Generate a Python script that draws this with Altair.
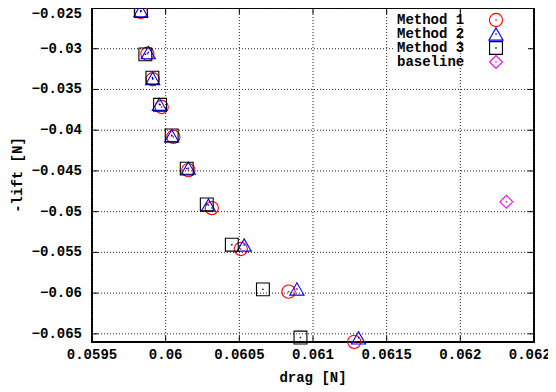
import altair as alt
import pandas as pd

# ---- data ----
m1_drag = [0.059831, 0.059876, 0.059912, 0.059973, 0.060052, 0.060154, 0.060313, 0.060510, 0.060834, 0.061280]
m1_lift = [-0.02547, -0.03061, -0.03375, -0.03715, -0.04082, -0.04490, -0.04956, -0.05458, -0.05982, -0.06598]
m2_drag = [0.059831, 0.059882, 0.059912, 0.059957, 0.060041, 0.060154, 0.060290, 0.060533, 0.060891, 0.061309]
m2_lift = [-0.02532, -0.03047, -0.03365, -0.03681, -0.04070, -0.04466, -0.04919, -0.05409, -0.05949, -0.06549]
m3_drag = [0.059833, 0.059862, 0.059910, 0.059962, 0.060041, 0.060143, 0.060279, 0.060449, 0.060660, 0.060915]
m3_lift = [-0.02538, -0.03069, -0.03355, -0.03688, -0.04064, -0.04472, -0.04912, -0.05406, -0.05954, -0.06545]
base_drag = [0.062312]
base_lift = [-0.04879]

series_names = ["Method 1", "Method 2", "Method 3", "baseline"]
series_colors = ["#ff0000", "#0000ff", "#000000", "#ff00ff"]
series_shapes = ["circle", "triangle-up", "square", "diamond"]
series_sizes = [175, 200, 165, 165]

x_ticks = [0.0595, 0.06, 0.0605, 0.061, 0.0615, 0.062, 0.0625]
y_ticks = [-0.065, -0.06, -0.055, -0.05, -0.045, -0.04, -0.035, -0.03, -0.025]
x_domain = [0.0595, 0.0625]
y_domain = [-0.066, -0.025]
x_title = "drag [N]"
y_title = "-lift [N]"

W, H = 442, 334
FONT = "Liberation Mono"
FS = 14

all_drag = [m1_drag, m2_drag, m3_drag, base_drag]
all_lift = [m1_lift, m2_lift, m3_lift, base_lift]

xs = alt.Scale(domain=x_domain, nice=False, zero=False)
ys = alt.Scale(domain=y_domain, nice=False, zero=False)


def fmt(v):
    return f"{v:g}".replace("-", "\u2212")


def X(field="drag"):
    return alt.X(f"{field}:Q", scale=xs, axis=None)


def Y(field="lift"):
    return alt.Y(f"{field}:Q", scale=ys, axis=None)


xt = pd.DataFrame({"drag": x_ticks, "label": [fmt(v) for v in x_ticks]})
yt = pd.DataFrame({"lift": y_ticks, "label": [fmt(v) for v in y_ticks]})
one = pd.DataFrame({"k": [0]})

text_style = dict(font=FONT, fontSize=FS, fontWeight="bold", color="black")
grid_style = dict(color="#222222", strokeWidth=1, strokeDash=[1, 2])

layers = []

# horizontal grid
layers.append(alt.Chart(yt).mark_rule(**grid_style).encode(
    y=Y(), x=alt.value(0), x2=alt.value(W)))
# key area hides the horizontal grid (gnuplot style)
layers.append(alt.Chart(one).mark_rect(color="white").encode(
    x=alt.value(303), x2=alt.value(436), y=alt.value(4), y2=alt.value(62)))
# vertical grid
layers.append(alt.Chart(xt).mark_rule(**grid_style).encode(
    x=X(), y=alt.value(0), y2=alt.value(H)))

# inward tick marks on all four sides
layers.append(alt.Chart(xt).mark_rule(color="black", strokeWidth=1).encode(
    x=X(), y=alt.value(H - 6), y2=alt.value(H)))
layers.append(alt.Chart(xt).mark_rule(color="black", strokeWidth=1).encode(
    x=X(), y=alt.value(0), y2=alt.value(6)))
layers.append(alt.Chart(yt).mark_rule(color="black", strokeWidth=1).encode(
    y=Y(), x=alt.value(0), x2=alt.value(6)))
layers.append(alt.Chart(yt).mark_rule(color="black", strokeWidth=1).encode(
    y=Y(), x=alt.value(W - 6), x2=alt.value(W)))

# tick labels
layers.append(alt.Chart(xt).mark_text(align="center", baseline="middle", **text_style).encode(
    x=X(), y=alt.value(H + 13), text="label:N"))
layers.append(alt.Chart(yt[yt["lift"] < y_domain[1] - 1e-9]).mark_text(
    align="right", baseline="middle", **text_style).encode(
    y=Y(), x=alt.value(-10), text="label:N"))
layers.append(alt.Chart(yt[yt["lift"] >= y_domain[1] - 1e-9]).mark_text(
    align="right", baseline="middle", dy=6, **text_style).encode(
    y=Y(), x=alt.value(-10), text="label:N"))

# axis titles
layers.append(alt.Chart(pd.DataFrame({"t": [x_title]})).mark_text(
    align="center", baseline="middle", **text_style).encode(
    x=alt.value(W / 2), y=alt.value(H + 36), text="t:N"))
layers.append(alt.Chart(pd.DataFrame({"t": [y_title]})).mark_text(
    align="center", baseline="middle", angle=270, **text_style).encode(
    x=alt.value(-74), y=alt.value(H / 2), text="t:N"))

for i, name in enumerate(series_names):
    df = pd.DataFrame({"drag": all_drag[i], "lift": all_lift[i]})
    layers.append(alt.Chart(df).mark_point(
        shape=series_shapes[i], size=series_sizes[i], filled=False,
        color=series_colors[i], strokeWidth=1.1, opacity=1).encode(x=X(), y=Y()))
    layers.append(alt.Chart(df).mark_point(
        shape="square", size=2, filled=True, color=series_colors[i], opacity=1).encode(x=X(), y=Y()))
    # key entry (gnuplot style: label left, sample right)
    ldf = pd.DataFrame({"name": [name]})
    ly = 12 + 14 * i
    layers.append(alt.Chart(ldf).mark_text(align="left", baseline="middle", **text_style).encode(
        text="name:N", x=alt.value(305), y=alt.value(ly)))
    layers.append(alt.Chart(ldf).mark_point(
        shape=series_shapes[i], size=series_sizes[i], filled=False,
        color=series_colors[i], strokeWidth=1.1, opacity=1).encode(
        x=alt.value(404), y=alt.value(ly)))
    layers.append(alt.Chart(ldf).mark_point(
        shape="square", size=2, filled=True, color=series_colors[i], opacity=1).encode(
        x=alt.value(404), y=alt.value(ly)))

chart = alt.layer(*layers).properties(
    width=W, height=H,
    autosize=alt.AutoSizeParams(type="none"),
    padding={"left": 84, "top": 0, "right": 14, "bottom": 50},
    background="white",
).configure_view(
    stroke="black", strokeWidth=2
)

chart.save("out.html", embed_options={"renderer": "svg", "actions": False})
